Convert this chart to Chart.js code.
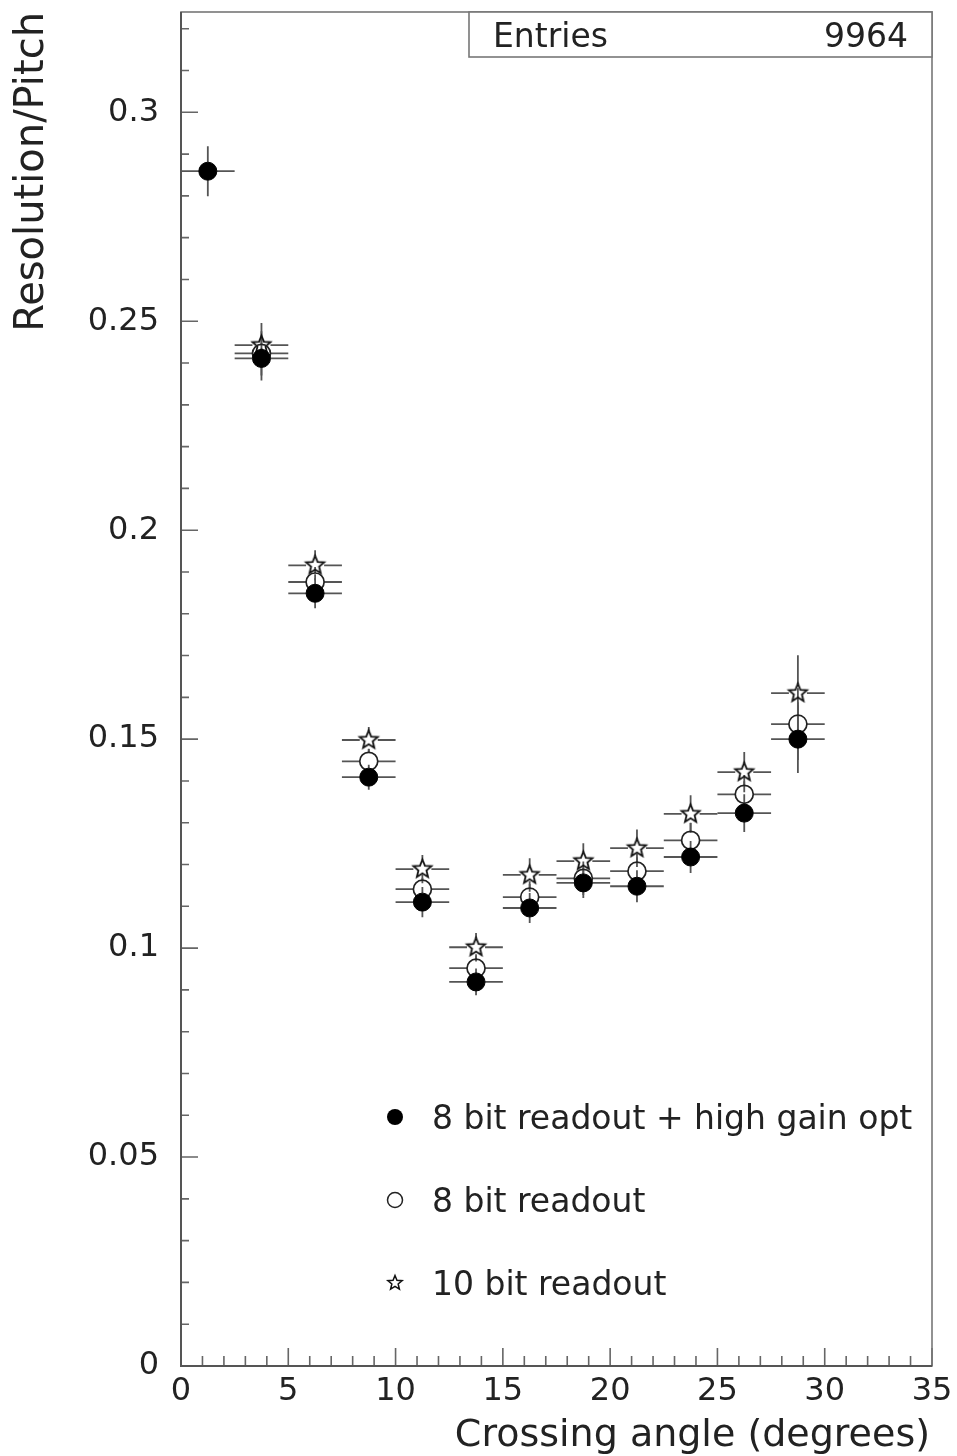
<!DOCTYPE html>
<html>
<head>
<meta charset="utf-8">
<script src="https://cdn.jsdelivr.net/npm/chart.js@4/dist/chart.umd.min.js"></script>
<style>
html,body{margin:0;padding:0;background:#fff;}
canvas{display:block;}
</style>
</head>
<body>
<canvas id="c" width="957" height="1456"></canvas>
<script>
// ---- data ----
const binCenters = [1.25, 3.75, 6.25, 8.75, 11.25, 13.75, 16.25, 18.75, 21.25, 23.75, 26.25, 28.75];
const binHalfWidth = 1.25;
const filledValues = [0.2859, 0.2411, 0.1849, 0.1409, 0.1110, 0.0919, 0.1096, 0.1156, 0.1148, 0.1218, 0.1323, 0.1500];
const filledErrors = [0.0060, 0.0053, 0.0036, 0.0030, 0.0036, 0.0032, 0.0036, 0.0036, 0.0038, 0.0038, 0.0045, 0.0081];
const openValues   = [null, 0.2423, 0.1876, 0.1447, 0.1141, 0.0952, 0.1122, 0.1167, 0.1184, 0.1258, 0.1368, 0.1536];
const openErrors   = [null, 0.0053, 0.0036, 0.0030, 0.0035, 0.0033, 0.0038, 0.0040, 0.0042, 0.0042, 0.0046, 0.0086];
const starValues   = [null, 0.2443, 0.1916, 0.1498, 0.1189, 0.1002, 0.1175, 0.1208, 0.1239, 0.1321, 0.1421, 0.1610];
const starErrors   = [null, 0.0053, 0.0036, 0.0031, 0.0034, 0.0034, 0.0040, 0.0043, 0.0045, 0.0045, 0.0048, 0.0091];
const seriesNames = ["8 bit readout + high gain opt", "8 bit readout", "10 bit readout"];
const yTickValues = [0, 0.05, 0.1, 0.15, 0.2, 0.25, 0.3];
const xTickValues = [0, 5, 10, 15, 20, 25, 30, 35];
const statsLabel = "Entries";
const statsValue = "9964";
const xTitle = "Crossing angle (degrees)";
const yTitle = "Resolution/Pitch";

const FONT = '"DejaVu Sans", sans-serif';

function makeStar(outer, inner, lw) {
  const s = Math.ceil(outer * 2 + lw * 2 + 2);
  const cv = document.createElement('canvas');
  cv.width = s; cv.height = s;
  const g = cv.getContext('2d');
  g.beginPath();
  for (let i = 0; i < 10; i++) {
    const r = i % 2 === 0 ? outer : inner;
    const a = -Math.PI / 2 + i * Math.PI / 5;
    const px = s / 2 + r * Math.cos(a), py = s / 2 + r * Math.sin(a);
    if (i === 0) g.moveTo(px, py); else g.lineTo(px, py);
  }
  g.closePath();
  g.lineWidth = lw; g.strokeStyle = '#111'; g.stroke();
  return cv;
}
const starImg = makeStar(9.5, 4.2, 1.8);
const starLegendImg = makeStar(7.5, 3.3, 1.5);

function pts(vals) {
  return binCenters.map((x, i) => ({x: x, y: vals[i]})).filter(p => p.y !== null);
}

const seriesInfo = [
  {vals: filledValues, errs: filledErrors, gap: 9},
  {vals: openValues, errs: openErrors, gap: 9},
  {vals: starValues, errs: starErrors, gap: 9}
];

const errorBars = {
  id: 'errorBars',
  beforeDatasetsDraw(chart) {
    const {ctx, scales: {x, y}} = chart;
    ctx.save();
    ctx.strokeStyle = '#555';
    ctx.lineWidth = 1.8;
    seriesInfo.slice().reverse().forEach(s => {
      binCenters.forEach((xv, i) => {
        const v = s.vals[i];
        if (v === null) return;
        const px = x.getPixelForValue(xv), py = y.getPixelForValue(v);
        const xl = x.getPixelForValue(xv - binHalfWidth), xr = x.getPixelForValue(xv + binHalfWidth);
        const yt = y.getPixelForValue(v + s.errs[i]), yb = y.getPixelForValue(v - s.errs[i]);
        const g = s.gap;
        ctx.beginPath();
        ctx.moveTo(xl, py); ctx.lineTo(px - g, py);
        ctx.moveTo(px + g, py); ctx.lineTo(xr, py);
        if (py - yt > g) { ctx.moveTo(px, py - g); ctx.lineTo(px, yt); }
        if (yb - py > g) { ctx.moveTo(px, py + g); ctx.lineTo(px, yb); }
        ctx.stroke();
      });
    });
    ctx.restore();
  }
};

const frameAndDecor = {
  id: 'frameAndDecor',
  afterDraw(chart) {
    const {ctx, chartArea: a, scales: {x, y}} = chart;
    ctx.save();
    // ticks (inward)
    ctx.strokeStyle = '#666';
    ctx.lineWidth = 1.6;
    ctx.beginPath();
    for (let i = 0; i <= 35; i++) {
      const px = x.getPixelForValue(i);
      const len = i % 5 === 0 ? 18 : 10;
      ctx.moveTo(px, a.bottom); ctx.lineTo(px, a.bottom - len);
    }
    for (let i = 0; i <= 32; i++) {
      const v = i / 100;
      const py = y.getPixelForValue(v);
      const len = i % 5 === 0 ? 17 : 8;
      ctx.moveTo(a.left, py); ctx.lineTo(a.left + len, py);
    }
    ctx.stroke();
    // frame
    ctx.strokeStyle = '#777';
    ctx.lineWidth = 1.6;
    ctx.strokeRect(a.left, a.top, a.right - a.left, a.bottom - a.top);
    ctx.strokeStyle = '#555';
    ctx.lineWidth = 2;
    ctx.beginPath();
    ctx.moveTo(a.left, a.top); ctx.lineTo(a.left, a.bottom); ctx.lineTo(a.right, a.bottom);
    ctx.stroke();

    // stats box
    const bx = 469, by = a.top, bw = a.right - 469, bh = 45;
    ctx.fillStyle = '#fff';
    ctx.fillRect(bx, by, bw, bh);
    ctx.strokeStyle = '#777';
    ctx.lineWidth = 1.6;
    ctx.strokeRect(bx, by, bw, bh);
    ctx.fillStyle = '#222';
    ctx.font = '33px ' + FONT;
    ctx.textBaseline = 'alphabetic';
    ctx.textAlign = 'left';
    ctx.fillText(statsLabel, 493, by + 35);
    ctx.textAlign = 'right';
    ctx.fillText(statsValue, 908, by + 35);

    // legend
    const lx = 395, ly = [1117, 1200, 1283];
    ctx.fillStyle = '#000';
    ctx.beginPath(); ctx.arc(lx, ly[0], 8, 0, Math.PI * 2); ctx.fill();
    ctx.strokeStyle = '#222'; ctx.lineWidth = 1.5;
    ctx.beginPath(); ctx.arc(lx, ly[1], 7.5, 0, Math.PI * 2); ctx.stroke();
    ctx.drawImage(starLegendImg, lx - starLegendImg.width / 2, ly[2] - starLegendImg.height / 2);
    ctx.fillStyle = '#222';
    ctx.font = '33px ' + FONT;
    ctx.textAlign = 'left';
    seriesNames.forEach((n, i) => ctx.fillText(n, 432, ly[i] + 12));

    // axis titles
    ctx.font = '38px ' + FONT;
    ctx.textAlign = 'right';
    ctx.fillText(xTitle, 930, 1446);
    ctx.save();
    ctx.font = '40px ' + FONT;
    ctx.translate(43, 12);
    ctx.rotate(-Math.PI / 2);
    ctx.textAlign = 'right';
    ctx.fillText(yTitle, 0, 0);
    ctx.restore();
    ctx.restore();
  }
};

new Chart(document.getElementById('c'), {
  type: 'scatter',
  data: {
    datasets: [
      {label: seriesNames[0], data: pts(filledValues), pointStyle: 'circle', pointRadius: 9, pointHoverRadius: 9,
       backgroundColor: '#000', borderColor: '#000', borderWidth: 1},
      {label: seriesNames[1], data: pts(openValues), pointStyle: 'circle', pointRadius: 9, pointHoverRadius: 9,
       backgroundColor: 'rgba(0,0,0,0)', borderColor: '#222', borderWidth: 1.7},
      {label: seriesNames[2], data: pts(starValues), pointStyle: starImg, pointRadius: 10,
       backgroundColor: 'rgba(0,0,0,0)', borderColor: '#222'}
    ]
  },
  options: {
    responsive: false,
    animation: false,
    devicePixelRatio: 1,
    layout: {padding: {top: 12, right: 25, left: 0, bottom: 0}},
    plugins: {legend: {display: false}, tooltip: {enabled: false}},
    scales: {
      x: {
        type: 'linear', min: 0, max: 35,
        afterFit(s) { s.height = 90; s.paddingLeft = 0; s.paddingRight = 0; },
        afterBuildTicks(s) { s.ticks = xTickValues.map(v => ({value: v})); },
        ticks: {font: {family: FONT, size: 32}, color: '#222', padding: 6, maxRotation: 0,
                callback: v => String(v)},
        grid: {display: false, drawTicks: false},
        border: {display: false}
      },
      y: {
        type: 'linear', min: 0, max: 0.324,
        afterFit(s) { s.width = 181; s.paddingTop = 0; s.paddingBottom = 0; },
        afterBuildTicks(s) { s.ticks = yTickValues.map(v => ({value: v})); },
        ticks: {font: {family: FONT, size: 32}, color: '#222', padding: 22,
                callback: v => v === 0 ? '0' : String(+v.toFixed(2))},
        grid: {display: false, drawTicks: false},
        border: {display: false}
      }
    }
  },
  plugins: [errorBars, frameAndDecor]
});
</script>
</body>
</html>
